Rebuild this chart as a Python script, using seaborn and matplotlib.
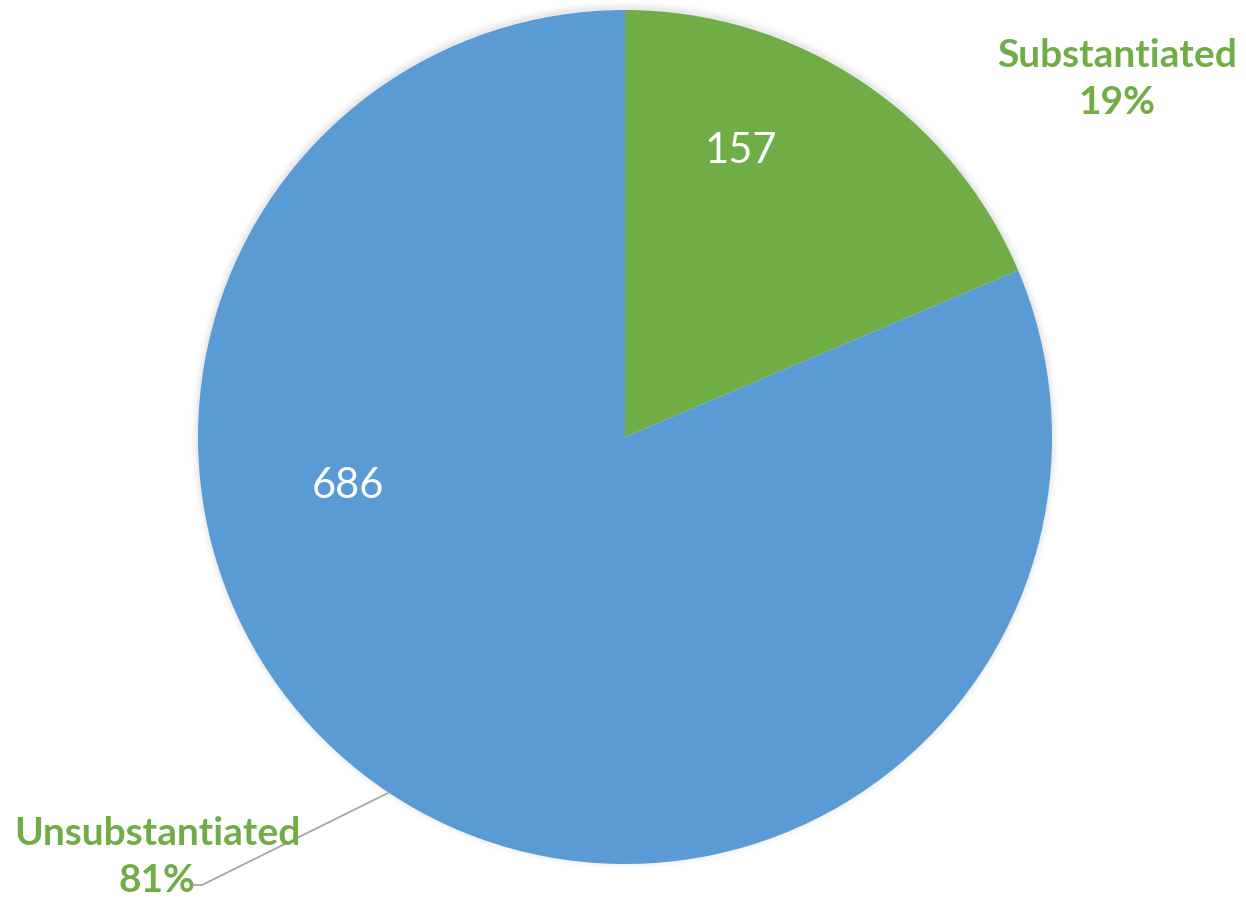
import matplotlib.pyplot as plt
import seaborn as sns
from matplotlib.patches import Circle

# === Data ===
categories = ["Substantiated", "Unsubstantiated"]
counts = [157, 686]
pct_labels = ["19%", "81%"]
colors = ["#70AD47", "#5B9BD5"]

sns.set_theme(style="white")
plt.rcParams["font.family"] = ["Lato", "DejaVu Sans"]

W, H = 1246, 900
fig = plt.figure(figsize=(W / 100, H / 100), dpi=100)
ax = fig.add_axes([0, 0, 1, 1])
ax.set_xlim(0, W)
ax.set_ylim(0, H)
ax.axis("off")

cx, cy, r = 625, H - 437, 427

# soft shadow around the pie
for i, a in enumerate([0.05, 0.04, 0.03, 0.02, 0.015]):
    ax.add_patch(Circle((cx, cy + 2), r + 1.5 * (i + 1), color="#808080", alpha=a, lw=0, zorder=0))

wedges, _ = ax.pie(counts, colors=colors, startangle=90, counterclock=False,
                   center=(cx, cy), radius=r, wedgeprops=dict(linewidth=0))
ax.set_aspect("equal")
ax.set_xlim(0, W)
ax.set_ylim(0, H)

# values inside slices
ax.text(741, H - 151, str(counts[0]), color="white", fontsize=30, ha="center", va="center")
ax.text(348, H - 486, str(counts[1]), color="white", fontsize=30, ha="center", va="center")

# outer labels
ax.text(1117, H - 79, f"{categories[0]}\n{pct_labels[0]}", color="#70AD47", fontsize=28,
        fontweight="bold", ha="center", va="center", linespacing=1.42)
ax.text(157, H - 857, f"{categories[1]}\n{pct_labels[1]}", color="#70AD47", fontsize=28,
        fontweight="bold", ha="center", va="center", linespacing=1.42)

# leader line
ax.plot([388, 202, 193], [H - 793, H - 885, H - 885], color="#A6A6A6", lw=1.3, zorder=1)

plt.savefig("out.png", dpi=100)
plt.close()
